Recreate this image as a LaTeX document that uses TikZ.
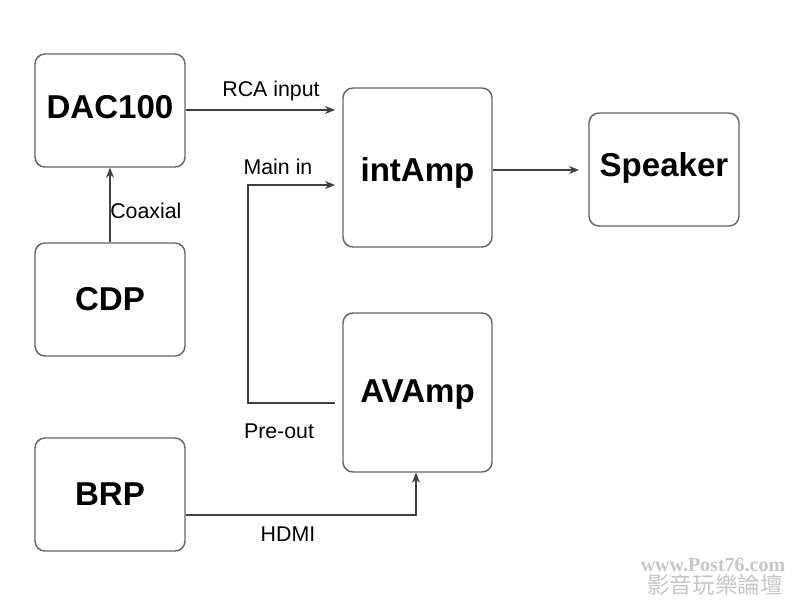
\documentclass[tikz,border=0pt]{standalone}
\usepackage{fontspec}
\setmainfont{Liberation Sans}
\newfontfamily\cjkfont{Noto Sans CJK TC}
\newfontfamily\wmfont{Liberation Serif}
\usetikzlibrary{arrows.meta}
\begin{document}
\begin{tikzpicture}[x=0.75pt,y=-0.75pt,
  devbox/.style={draw=black!60, line width=1.1pt, rounded corners=7.5pt, fill=white,
    font=\fontsize{24.8}{28}\selectfont\bfseries, inner sep=0pt,
    text height=17.76pt, text depth=0pt},
  small/.style={minimum width=112.5pt, minimum height=84.75pt},
  tall/.style={minimum width=111.75pt, minimum height=119.25pt},
  conn/.style={draw=black!75, line width=0.9pt, -{Stealth[length=7.5pt,width=6pt]}},
  lbl/.style={font=\fontsize{16}{18}\selectfont, inner sep=0pt},
  wm/.style={text=black!22, inner sep=0pt}]
\useasboundingbox (0,0) rectangle (800,600);
\fill[white] (0,0) rectangle (800,600);

\node[devbox,small,text depth=5.25pt] (dac) at (110,110.5) {DAC100};
\node[devbox,small,text depth=0.75pt] (cdp) at (110,299.5) {CDP};
\node[devbox,small,text depth=0.75pt] (brp) at (110,494.5) {BRP};
\node[devbox,tall,text height=20.76pt] (int) at (417.5,167.5) {intAmp};
\node[devbox,tall,text depth=2.25pt] (av) at (417.5,392.5) {AVAmp};
\node[devbox,small,text depth=6.75pt] (spk) at (664,169.5) {Speaker};

\coordinate (rcaend) at (335,110);
\coordinate (spkend) at (579,170);
\coordinate (prestart) at (335,403);
\coordinate (mainend) at (335,185);

\draw[conn] (dac.east |- rcaend) -- (rcaend);
\draw[conn] (cdp.north) -- (dac.south);
\draw[conn] (int.east |- spkend) -- (spkend);
\draw[conn] (brp.east |- 0,515) -| (av.south -| 416,0);
\draw[conn] (prestart) -- (248,403) -- (248,185) -- (mainend);

\node[lbl] (lrca) at (271,91) {RCA input};
\node[lbl,anchor=west] (lcoax) at (110,211) {Coaxial};
\node[lbl] (lmain) at (278,167) {Main in};
\node[lbl] (lpre) at (279,431) {Pre-out};
\node[lbl] (lhdmi) at (288,534) {HDMI};

\node[wm,font=\wmfont\bfseries\fontsize{15}{16}\selectfont] (wm1) at (713,565) {www.Post76.com};
\node[wm,font=\cjkfont\fontsize{17}{18}\selectfont] (wm2) at (715,585) {影音玩樂論壇};
\end{tikzpicture}
\end{document}
